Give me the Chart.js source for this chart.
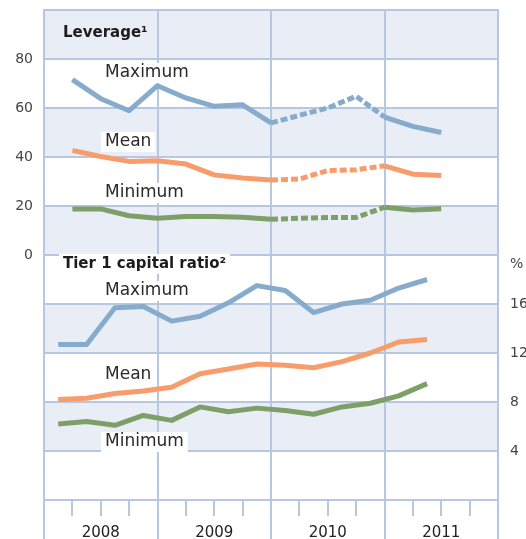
<!DOCTYPE html>
<html>
<head>
<meta charset="utf-8">
<script src="https://cdn.jsdelivr.net/npm/chart.js@4.4.1/dist/chart.umd.min.js"></script>
<style>
  html, body { margin: 0; padding: 0; background: #fff; }
  #wrap { width: 526px; height: 539px; }
</style>
</head>
<body>
<div id="wrap"><canvas id="chart" width="526" height="539"></canvas></div>
<script>
// Quarters shown on the x axis (2008 Q1 .. 2011 Q4)
const years = ['2008', '2009', '2010', '2011'];

// Leverage, quarter-end values 2008 Q1 .. 2011 Q2
const leverageMax  = [71.6, 63.8, 58.9, 69.1, 64.1, 60.7, 61.3, 53.9, 57.0, 60.0, 64.8, 56.3, 52.5, 50.0];
const leverageMean = [42.7, 40.2, 38.2, 38.5, 37.1, 32.7, 31.4, 30.6, 31.0, 34.5, 34.8, 36.4, 33.0, 32.4];
const leverageMin  = [18.8, 18.8, 16.0, 15.0, 15.7, 15.7, 15.4, 14.6, 15.0, 15.3, 15.3, 19.5, 18.4, 18.9];

// Tier 1 capital ratio (%), mid-quarter values 2008 Q1 .. 2011 Q2
const tier1Max  = [12.7, 12.7, 15.7, 15.8, 14.6, 15.0, 16.1, 17.5, 17.1, 15.3, 16.0, 16.3, 17.3, 18.0];
const tier1Mean = [8.2, 8.3, 8.7, 8.9, 9.2, 10.3, 10.7, 11.1, 11.0, 10.8, 11.3, 12.0, 12.9, 13.1];
const tier1Min  = [6.2, 6.4, 6.1, 6.9, 6.5, 7.6, 7.2, 7.5, 7.3, 7.0, 7.6, 7.9, 8.5, 9.5];

const leverageTicks = [0, 20, 40, 60, 80];
const tier1Ticks = [4, 8, 12, 16];

const GRID = '#b5c7e1';
const BAND = '#e9eef6';
const C_MAX = '#86abcd';
const C_MEAN = '#f89c6c';
const C_MIN = '#7f9f69';
const FONT = '"DejaVu Sans", sans-serif';

// leverage points sit on quarter ends, tier 1 points in mid-quarter
const atQuarterEnd = arr => arr.map((v, i) => ({ x: i + 1, y: v }));
const atQuarterMid = arr => arr.map((v, i) => ({ x: i + 0.5, y: v }));

// 2010 leverage segments are dashed
const dash2010 = ctx => (ctx.p0.parsed.x >= 8 && ctx.p1.parsed.x <= 12) ? [7, 3] : undefined;

const line = (data, color, axis, dashed) => ({
  data: data, yAxisID: axis, borderColor: color, borderWidth: 5,
  pointRadius: 0, tension: 0, fill: false, borderCapStyle: 'butt', borderJoinStyle: 'round',
  segment: dashed ? { borderDash: dash2010 } : {}
});

// no extra room for half tick labels: plot runs from y=10 to y=500
const noPad = s => { s.paddingTop = 0; s.paddingBottom = 0; s.paddingLeft = 0; s.paddingRight = 0; };

// alternating shaded bands behind the grid
const bandsPlugin = {
  id: 'bands',
  beforeDraw(chart) {
    const { ctx, chartArea: a, scales: { yLev } } = chart;
    ctx.save();
    ctx.fillStyle = BAND;
    for (let v = 80, k = 0; v >= -100; v -= 20, k++) {
      if (k % 2 !== 0) continue;
      const top = yLev.getPixelForValue(v + 20);
      const bot = yLev.getPixelForValue(v);
      ctx.fillRect(a.left, top, a.right - a.left, bot - top);
    }
    ctx.restore();
  }
};

// panel titles and series labels (white boxes cut the grid)
const labelsPlugin = {
  id: 'labels',
  beforeDatasetsDraw(chart) {
    const { ctx } = chart;
    ctx.save();
    ctx.textBaseline = 'middle';
    ctx.textAlign = 'left';
    const boxed = (text, x, y, font, color, bg) => {
      ctx.font = font;
      const w = ctx.measureText(text).width;
      if (bg) { ctx.fillStyle = bg; ctx.fillRect(x - 4, y - 10, w + 8, 20); }
      ctx.fillStyle = color;
      ctx.fillText(text, x, y);
    };
    const f = '17px ' + FONT;
    boxed('Leverage¹', 63, 33, 'bold 15px ' + FONT, '#1c1c1c', null);
    boxed('Tier 1 capital ratio²', 63, 264, 'bold 15px ' + FONT, '#1c1c1c', '#fff');
    boxed('Maximum', 105, 73, f, '#2a2a2a', '#fff');
    boxed('Mean', 105, 142, f, '#2a2a2a', '#fff');
    boxed('Minimum', 105, 193, f, '#2a2a2a', '#fff');
    boxed('Maximum', 105, 291, f, '#2a2a2a', '#fff');
    boxed('Mean', 105, 375, f, '#2a2a2a', '#fff');
    boxed('Minimum', 105, 442, f, '#2a2a2a', '#fff');
    ctx.restore();
  },
  afterDraw(chart) {
    const { ctx, chartArea: a, scales: { x } } = chart;
    ctx.save();
    // quarter ticks and year dividers below the plot
    ctx.strokeStyle = GRID;
    ctx.lineWidth = 2;
    for (let q = 0; q <= 16; q++) {
      const px = Math.round(x.getPixelForValue(q));
      ctx.beginPath();
      ctx.moveTo(px, a.bottom);
      ctx.lineTo(px, q % 4 === 0 ? chart.height : a.bottom + 16);
      ctx.stroke();
    }
    ctx.fillStyle = '#444';
    ctx.font = '14px ' + FONT;
    ctx.textBaseline = 'middle';
    ctx.fillText('%', a.right + 12, 264);
    ctx.restore();
  }
};

new Chart(document.getElementById('chart').getContext('2d'), {
  type: 'line',
  data: {
    datasets: [
      line(atQuarterEnd(leverageMax), C_MAX, 'yLev', true),
      line(atQuarterEnd(leverageMean), C_MEAN, 'yLev', true),
      line(atQuarterEnd(leverageMin), C_MIN, 'yLev', true),
      line(atQuarterMid(tier1Max), C_MAX, 'yTier', false),
      line(atQuarterMid(tier1Mean), C_MEAN, 'yTier', false),
      line(atQuarterMid(tier1Min), C_MIN, 'yTier', false)
    ]
  },
  options: {
    responsive: false, animation: false,
    layout: { padding: { top: 10, left: 0, right: 0, bottom: 0 } },
    plugins: { legend: { display: false }, tooltip: { enabled: false } },
    scales: {
      x: {
        type: 'linear', min: 0, max: 16,
        afterFit: s => { s.height = 39; noPad(s); },
        border: { color: GRID, width: 2 },
        grid: { color: c => (c.tick.value % 4 === 0 ? GRID : 'rgba(0,0,0,0)'), lineWidth: 2, drawTicks: false },
        ticks: {
          stepSize: 1, autoSkip: false, maxRotation: 0, padding: 24, color: '#222',
          font: { family: FONT, size: 15 },
          callback: v => (v % 4 === 2 ? years[(v - 2) / 4] : '')
        }
      },
      yLev: {
        type: 'linear', position: 'left', min: -100, max: 100,
        afterFit: s => { s.width = 44; noPad(s); },
        border: { color: GRID, width: 2 },
        grid: { color: GRID, lineWidth: 2, drawTicks: false },
        ticks: {
          stepSize: 20, padding: 11, color: '#444',
          font: { family: FONT, size: 14 },
          callback: v => (leverageTicks.includes(v) ? v : '')
        }
      },
      yTier: {
        type: 'linear', position: 'right', min: 0, max: 40,
        afterFit: s => { s.width = 28; noPad(s); },
        border: { color: GRID, width: 2 },
        grid: { drawOnChartArea: false, drawTicks: false },
        ticks: {
          stepSize: 4, padding: 12, color: '#444',
          font: { family: FONT, size: 14 },
          callback: v => (tier1Ticks.includes(v) ? v : '')
        }
      }
    }
  },
  plugins: [bandsPlugin, labelsPlugin]
});
</script>
</body>
</html>
